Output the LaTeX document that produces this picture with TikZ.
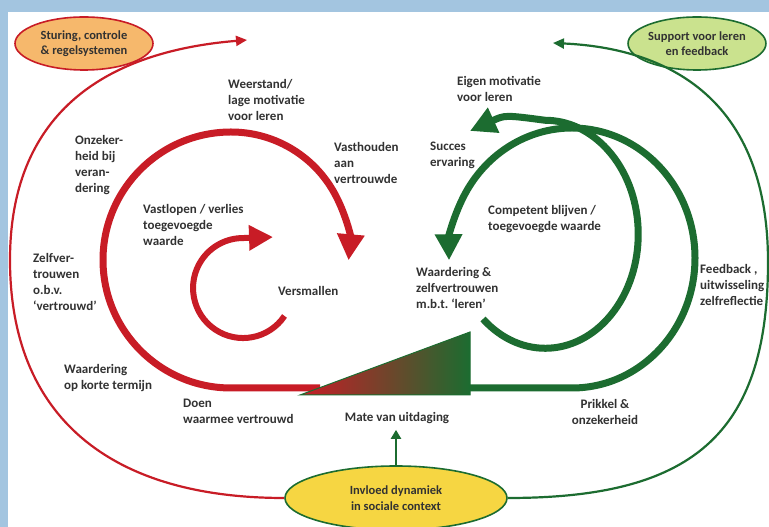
\documentclass[tikz,border=0pt]{standalone}
\usepackage{fontspec}
\setmainfont{Carlito}
\frenchspacing
\usetikzlibrary{arrows.meta}
\usetikzlibrary{shapes.geometric}
\usetikzlibrary{positioning}

\begin{document}
\begin{tikzpicture}[x=1pt, y=1pt,
	lbl/.style={font=\bfseries\fontsize{13}{16}\selectfont, text=txtgrey, align=left, inner sep=0pt, anchor=west},
	bubble/.style={ellipse, line width=1.6pt, inner sep=0pt, align=center, font=\bfseries\fontsize{12.5}{15.5}\selectfont, text=txtgrey},
	thinred/.style={draw=appred, line width=2.2pt, -{Triangle[length=11pt,width=10pt]}},
	thingreen/.style={draw=appgreen, line width=2.2pt, -{Triangle[length=11pt,width=10pt]}},
	thickred/.style={draw=appred, line width=7pt, -{Triangle[length=26pt,width=26pt]}},
	thickgreen/.style={draw=appgreen, line width=7pt, -{Triangle[length=26pt,width=26pt]}}]
		% Spiral of learning: red loops (stay with what is known) and green loops (keep learning)

% Colors
\definecolor{bgblue}{RGB}{163,197,224}
\definecolor{appred}{RGB}{200,28,38}
\definecolor{appgreen}{RGB}{28,108,48}
\definecolor{orangefill}{RGB}{246,184,108}
\definecolor{greenfill}{RGB}{202,226,142}
\definecolor{yellowfill}{RGB}{246,214,66}
\definecolor{txtgrey}{RGB}{50,50,50}

% Frame
\fill[bgblue] (0,0) rectangle (769,527);
\fill[white] (8,0) rectangle (769,515);
\useasboundingbox (0,0) rectangle (769,527);

% Points
\coordinate (sturtip) at (247,487);
\coordinate (suptip) at (553,484);
\coordinate (redstart) at (320,139);
\coordinate (smallstart) at (284.5,211);
\coordinate (greenstart) at (470,139);
\coordinate (innerstart) at (483,208);
\coordinate (t1) at (300,132);
\coordinate (t2) at (470,195);
\coordinate (t3) at (470,132);

% Nodes
\node[bubble, draw=appred, fill=orangefill, minimum width=138pt, minimum height=53pt] (sturing) at (84,483.5) {Sturing, controle\\\& regelsystemen};
\node[bubble, draw=appgreen, fill=greenfill, minimum width=134pt, minimum height=53pt] (support) at (697,483.5) {Support voor leren\\en feedback};
\node[bubble, draw=appgreen, fill=yellowfill, minimum width=222pt, minimum height=64pt] (context) at (396,29) {Invloed dynamiek\\in sociale context};

% Outer loops
\draw[thinred] (context.west) .. controls (110,29) and (10,110) .. (10,267) .. controls (10,410) and (100,475) .. (sturtip);
\draw[thingreen] (context.east) .. controls (690,29) and (768,90) .. (768,265) .. controls (768,450) and (640,480) .. (suptip);

% Red loops
\draw[thickred] (redstart) -- (231,139) arc[start angle=-90, end angle=-270, radius=128] arc[start angle=90, end angle=-5, radius=118];
\draw[draw=appred, line width=6pt, -{Triangle[length=24pt,width=24pt]}] (smallstart) arc[start angle=-34, end angle=-270, radius=50] -- ++(30,1);

% Green loops
\draw[thickgreen] (greenstart) -- (572,139) arc[start angle=-90, end angle=181, x radius=123, y radius=130];
\draw[thickgreen] (innerstart) arc[start angle=-132, end angle=90, x radius=93, y radius=114] .. controls (505,412) .. (470,396);

% Challenge wedge
\shade[left color=appred, right color=appgreen] (t1) -- (t2) -- (t3) -- cycle;
\draw[appgreen, line width=1pt] (t1) -- (t2) -- (t3) -- cycle;

% Labels
\node[lbl] (weerstand) at (228,427) {Weerstand/\\lage motivatie\\voor leren};
\node[lbl] (onzeker) at (75,362) {Onzeker-\\heid bij\\veran-\\dering};
\node[lbl] (vasthouden) at (334,364) {Vasthouden\\aan\\vertrouwde};
\node[lbl] (vastlopen) at (143,302) {Vastlopen / verlies\\toegevoegde\\waarde};
\node[lbl] (zelfver) at (33,245) {Zelfver-\\trouwen\\o.b.v.\\‘vertrouwd’};
\node[lbl] (versmallen) at (278,236) {Versmallen};
\node[lbl] (kortetermijn) at (64,148.5) {Waardering\\op korte termijn};
\node[lbl] (doen) at (183,116) {Doen\\waarmee vertrouwd};
\node[lbl, anchor=center, align=center] (mate) at (397,109) {Mate van uitdaging};
\node[lbl] (eigen) at (457,438.5) {Eigen motivatie\\voor leren};
\node[lbl] (succes) at (430,372) {Succes\\ervaring};
\node[lbl] (competent) at (488,308) {Competent blijven /\\toegevoegde waarde};
\node[lbl] (zelfvertrouwen) at (416,239) {Waardering \&\\zelfvertrouwen\\m.b.t. ‘leren’};
\node[lbl] (feedback) at (700,242) {Feedback ,\\uitwisseling\\zelfreflectie};
\node[lbl, anchor=center, align=center] (prikkel) at (605,115.5) {Prikkel \&\\onzekerheid};

% Context arrow
\draw[appgreen, line width=2.6pt, -{Triangle[length=9pt,width=10pt]}, shorten >=6pt] (context.north) -- (context.north |- mate.south);
	\end{tikzpicture}
\end{document}
